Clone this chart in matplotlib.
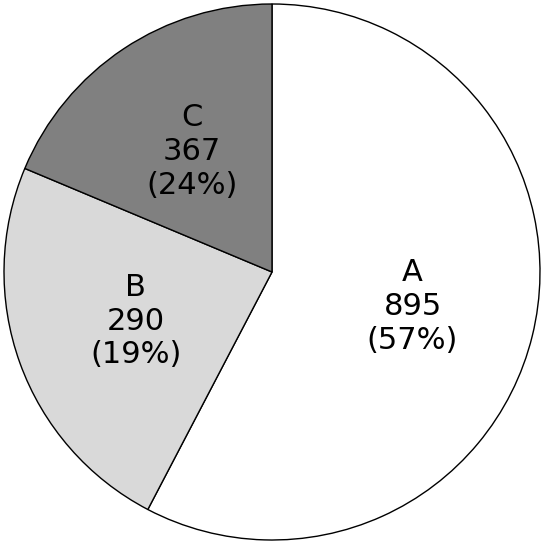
import matplotlib.pyplot as plt

labels = ["A", "B", "C"]
values = [895, 290, 367]
pcts = [57, 19, 24]
# wedge sizes as drawn in the reference (B and C slices appear swapped in size)
wedge_sizes = [895, 367, 290]
colors = ["#ffffff", "#d9d9d9", "#808080"]

texts = ["%s\n%d\n(%d%%)" % (l, v, p) for l, v, p in zip(labels, values, pcts)]

fig = plt.figure(figsize=(5.45, 5.5), dpi=100)
ax = fig.add_axes([4 / 545, 10 / 550, 536 / 545, 536 / 550])
wedges, tx = ax.pie(wedge_sizes, labels=texts, colors=colors, startangle=90, counterclock=False,
                    labeldistance=0.54, textprops={"fontsize": 22, "ha": "center", "va": "center",
                                                   "linespacing": 1.2},
                    wedgeprops={"edgecolor": "black", "linewidth": 1})
ax.set_xlim(-1.0, 1.0)
ax.set_ylim(-1.0, 1.0)
ax.set_aspect("equal")
fig.savefig("out.png")
